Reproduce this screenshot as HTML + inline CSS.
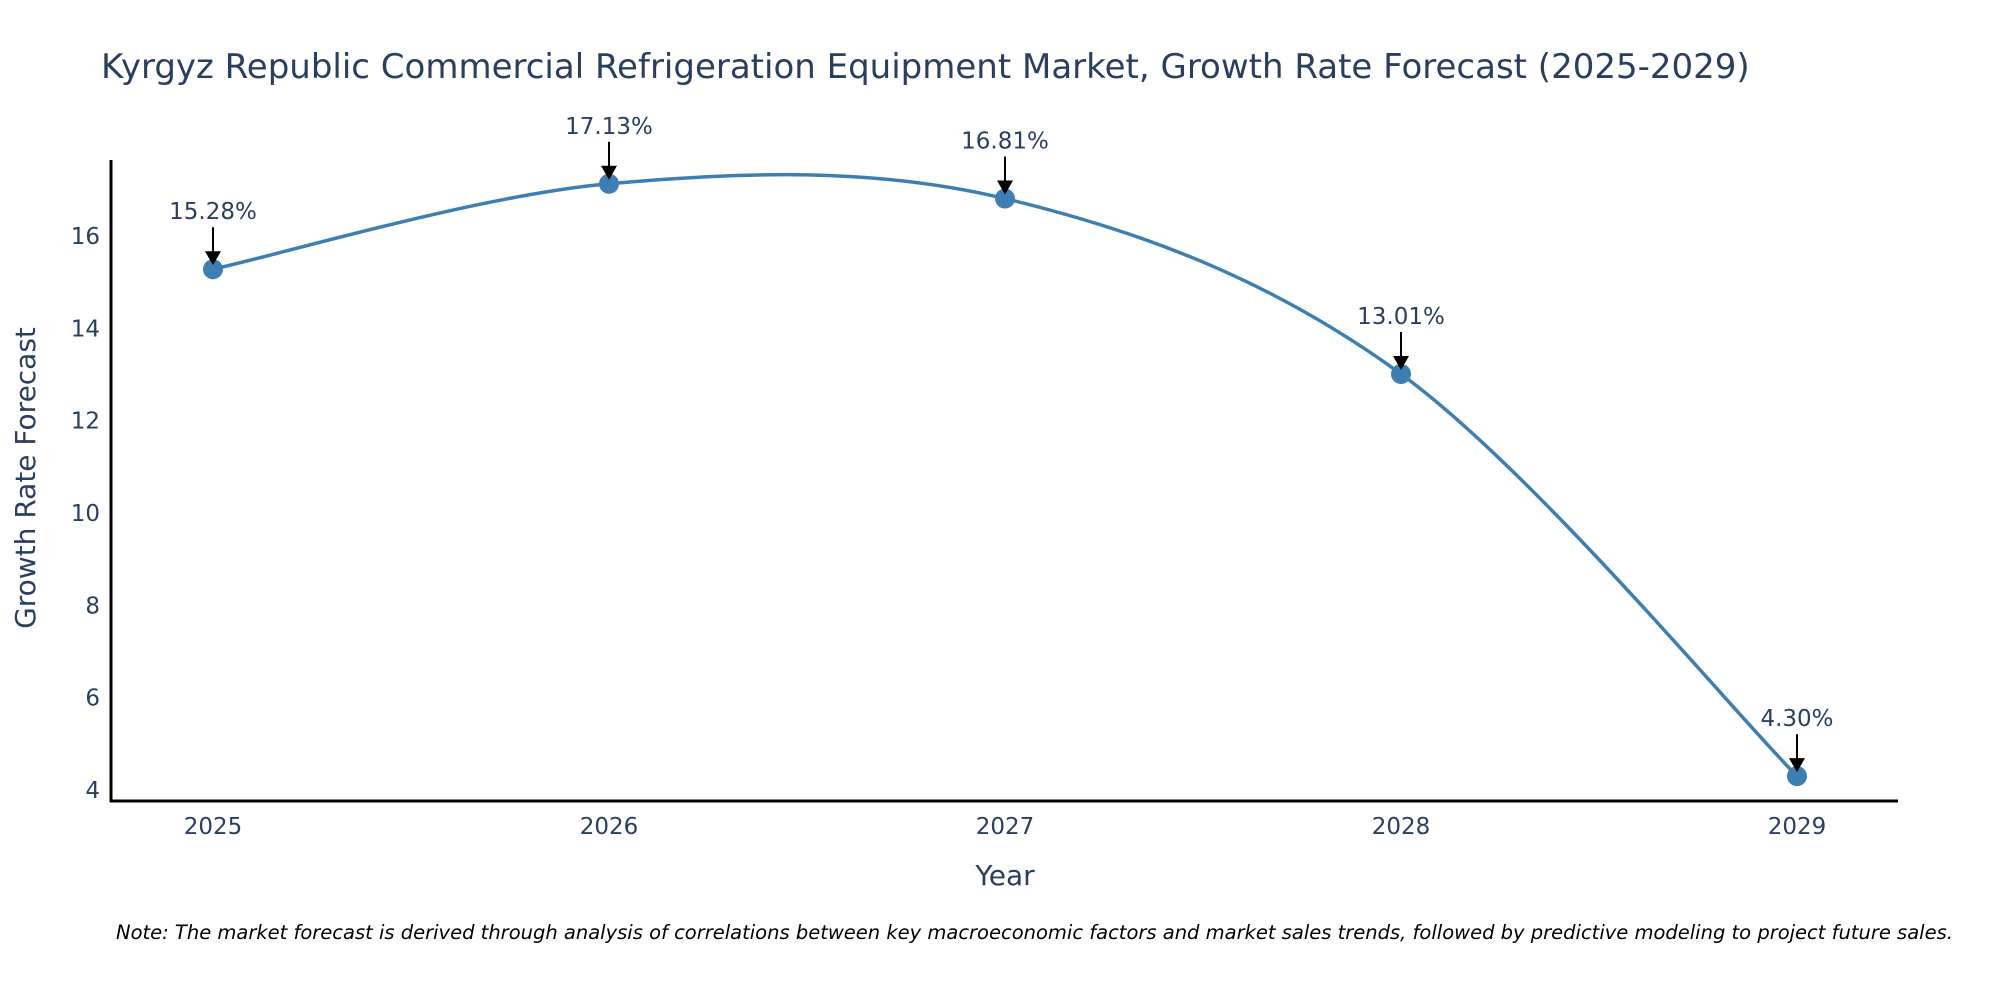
<!DOCTYPE html>
<html><head><meta charset="utf-8"><style>
body{margin:0;background:#fff}
svg{display:block;font-family:"DejaVu Sans","Liberation Sans",sans-serif}
</style></head><body>
<svg id="chart" width="2000" height="1000">
<text x="101" y="78" font-size="34" fill="#2a3f5f">Kyrgyz Republic Commercial Refrigeration Equipment Market, Growth Rate Forecast (2025-2029)</text>
<g id="yticks"></g>
<g id="xticks"></g>
<path id="line" fill="none" stroke="#3d7fb3" stroke-width="3.5"></path>
<g id="marks"></g>
<g id="ann"></g>
<line x1="111" y1="160" x2="111" y2="802" stroke="#000" stroke-width="3"/>
<line x1="110" y1="801" x2="1898" y2="801" stroke="#000" stroke-width="3"/>
<text x="1005" y="885" font-size="28" text-anchor="middle" fill="#2a3f5f">Year</text>
<text transform="translate(35,478) rotate(-90)" font-size="28" text-anchor="middle" fill="#2a3f5f">Growth Rate Forecast</text>
<text x="116" y="939" font-size="19.5" font-style="italic" fill="#000">Note: The market forecast is derived through analysis of correlations between key macroeconomic factors and market sales trends, followed by predictive modeling to project future sales.</text>
</svg>
<script>
const years = [2025, 2026, 2027, 2028, 2029];
const values = [15.28, 17.13, 16.81, 13.01, 4.30];
const valueLabels = ["15.28%", "17.13%", "16.81%", "13.01%", "4.30%"];
const yTicks = [4, 6, 8, 10, 12, 14, 16];
const NS = "http://www.w3.org/2000/svg";
function xs(v){return 213 + (v - 2025) * 396;}
function ys(v){return 790 - (v - 4) * 46.17;}
function mk(tag, attrs, parent){const e=document.createElementNS(NS,tag);for(const k in attrs)e.setAttribute(k,attrs[k]);parent.appendChild(e);return e;}
const yg=document.getElementById('yticks'), xg=document.getElementById('xticks');
yTicks.forEach(t=>{
  const e=mk('text',{x:100,y:ys(t)+8,'font-size':23,'text-anchor':'end',fill:'#2a3f5f'},yg);
  
  
  e.textContent=t;
});
years.forEach(y=>{
  const e=mk('text',{x:xs(y),y:834,'font-size':23,'text-anchor':'middle',fill:'#2a3f5f'},xg);
  
  
  e.textContent=y;
});
const pts=years.map((y,i)=>[xs(y),ys(values[i])]);
let d=`M${pts[0][0]},${pts[0][1]}`;
for(let i=0;i<pts.length-1;i++){
  const p0=pts[Math.max(i-1,0)],p1=pts[i],p2=pts[i+1],p3=pts[Math.min(i+2,pts.length-1)];
  const c1=[p1[0]+(p2[0]-p0[0])/6,p1[1]+(p2[1]-p0[1])/6];
  const c2=[p2[0]-(p3[0]-p1[0])/6,p2[1]-(p3[1]-p1[1])/6];
  d+=` C${c1[0]},${c1[1]} ${c2[0]},${c2[1]} ${p2[0]},${p2[1]}`;
}
document.getElementById('line').setAttribute('d',d);
const mg=document.getElementById('marks'), ag=document.getElementById('ann');
pts.forEach((p,i)=>{
  const c=mk('circle',{cx:p[0],cy:p[1],r:10,fill:'#3d7fb3'},mg);
  
  
  const l=mk('line',{x1:p[0],y1:p[1]-42,x2:p[0],y2:p[1]-16,stroke:'#000','stroke-width':2},ag);
  
  
  const h=mk('polygon',{points:`${p[0]-8},${p[1]-18} ${p[0]+8},${p[1]-18} ${p[0]},${p[1]-4}`,fill:'#000'},ag);
  
  
  const t=mk('text',{x:p[0],y:p[1]-50,'font-size':23,'text-anchor':'middle',fill:'#2a3f5f'},ag);
  
  
  t.textContent=valueLabels[i];
});
</script>
</body></html>
